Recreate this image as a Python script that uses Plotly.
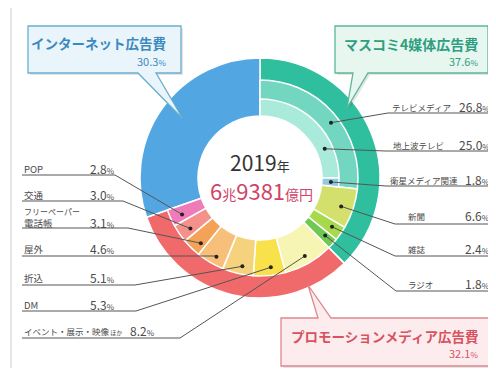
import math
import plotly.graph_objects as go

W, H = 496, 378

# ---------------- data ----------------
groups = ["マスコミ4媒体広告費", "プロモーションメディア広告費", "インターネット広告費"]
group_values = [37.6, 32.1, 30.3]

mid_labels = ["テレビメディア", "新聞", "雑誌", "ラジオ",
              "イベント・展示・映像ほか", "DM", "折込", "屋外",
              "フリーペーパー電話帳", "交通", "POP"]
mid_values = [26.8, 6.6, 2.4, 1.8, 8.2, 5.3, 5.1, 4.6, 3.1, 3.0, 2.8]

tv_labels = ["地上波テレビ", "衛星メディア関連"]
tv_values = [25.0, 1.8]

year_text = "2019"
total_text = ("6", "兆", "9381", "億円")

# ---------------- styles ----------------
group_colors = ["#2fbf9f", "#f06a6b", "#52a6e2"]
mid_colors = ["#72d6c0", "#d3e16c", "#a6d94c", "#6fc950",
              "#f7f5b3", "#f9e14c", "#f5d37e", "#f7bf7a",
              "#f4a257", "#f3918a", "#f07bb9"]
tv_colors = ["#aaeadb", "#8ccbe0"]

CX, CY = 252, 170
R_OUT, R_MID, R_IN, R_HOLE = 120, 98, 79, 62
FONT = "Noto Sans CJK JP"


def domain(r):
    return dict(x=[(CX - r) / W, (CX + r) / W],
                y=[1 - (CY + r) / H, 1 - (CY - r) / H])


fig = go.Figure()

# invisible trace so the pixel-like axes exist
fig.add_trace(go.Scatter(x=[0, W], y=[0, H], mode="markers",
                         marker=dict(opacity=0), hoverinfo="skip", showlegend=False))

# outer ring (groups), full depth
fig.add_trace(go.Pie(values=group_values, labels=groups, marker=dict(colors=group_colors,
                     line=dict(color="white", width=1.5)),
                     hole=R_HOLE / R_OUT, domain=domain(R_OUT), sort=False,
                     direction="clockwise", rotation=0, textinfo="none",
                     hoverinfo="skip", showlegend=False))

# middle ring (media), transparent for internet
mid_v = mid_values + [group_values[2]]
mid_c = mid_colors + ["rgba(0,0,0,0)"]
mid_w = [1.5] * len(mid_values) + [0]
fig.add_trace(go.Pie(values=mid_v, labels=mid_labels + ["_"], marker=dict(colors=mid_c,
                     line=dict(color="white", width=mid_w)),
                     hole=R_HOLE / R_MID, domain=domain(R_MID), sort=False,
                     direction="clockwise", rotation=0, textinfo="none",
                     hoverinfo="skip", showlegend=False))

# inner ring (TV breakdown)
tv_v = tv_values + [100 - sum(tv_values)]
tv_c = tv_colors + ["rgba(0,0,0,0)"]
tv_w = [1.5, 1.5, 0]
fig.add_trace(go.Pie(values=tv_v, labels=tv_labels + ["_"], marker=dict(colors=tv_c,
                     line=dict(color="white", width=tv_w)),
                     hole=R_HOLE / R_IN, domain=domain(R_IN), sort=False,
                     direction="clockwise", rotation=0, textinfo="none",
                     hoverinfo="skip", showlegend=False))

shapes = []
annotations = []


def pt(theta_deg, r):
    t = math.radians(theta_deg)
    return CX + r * math.sin(t), CY - r * math.cos(t)


def slice_point(values, idx, frac, r):
    start = sum(values[:idx]) * 3.6
    span = values[idx] * 3.6
    return pt(start + frac * span, r)


LINE_C = "#555555"
TXT_C = "#4a4a4a"


def val_html(v):
    return f"{v:.1f}<span style='font-size:8px'>%</span>"


def add_dot(x, y):
    shapes.append(dict(type="circle", xref="x", yref="y", x0=x - 2, x1=x + 2,
                       y0=y - 2, y1=y + 2, fillcolor="#222", line=dict(width=0),
                       layer="above"))


def add_poly(pts, color=LINE_C, width=1):
    d = "M " + " L ".join(f"{x:.1f},{y:.1f}" for x, y in pts)
    shapes.append(dict(type="path", xref="x", yref="y", path=d,
                       line=dict(color=color, width=width), layer="above"))


# right-side labels: (values list, index, name, name_x, text_y, line_y, elbow_x, frac, r)
right_cfg = [
    (mid_values, 0, mid_labels[0], 382, 99, 105, 380, 0.54, 90),
    (tv_values, 0, tv_labels[0], 383, 137, 143, 378, 0.73, 71),
    (tv_values, 1, tv_labels[1], 380, 172, 178, 378, 0.5, 71),
    (mid_values, 1, mid_labels[1], 398, 208, 216, 387, 0.54, 86),
    (mid_values, 2, mid_labels[2], 398, 241, 248, 387, 0.45, 87),
    (mid_values, 3, mid_labels[3], 398, 276, 283, 388, 0.4, 87),
]
for vals, i, name, nx, ty, ly, ex, frac, r in right_cfg:
    dx, dy = slice_point(vals, i, frac, r)
    add_poly([(dx, dy), (ex, ly), (484, ly)])
    add_dot(dx, dy)
    annotations.append(dict(x=nx, y=ty, text=name, xanchor="left", yanchor="middle",
                            showarrow=False, font=dict(size=8.5, color=TXT_C, family=FONT)))
    annotations.append(dict(x=484, y=ty - 1, text=val_html(vals[i]), xanchor="right",
                            yanchor="middle", showarrow=False,
                            font=dict(size=12, color=TXT_C, family=FONT)))

# left-side labels: (index, name_html, text_y, line_y, elbow_x, value_x, frac, r)
left_cfg = [
    (10, "POP", 161, 167, 107, 80, 0.41, 86),
    (9, "交通", 187, 193, 115, 80, 0.37, 86),
    (8, "電話帳", 215, 220, 120, 80, 0.3, 88),
    (7, "屋外", 241, 248, None, 80, 0.4, 90),
    (6, "折込", 270, 277, 127, 80, 0.4, 90),
    (5, "DM", 297, 303, 128, 80, 0.43, 90),
    (4, "イベント・展示・映像<span style='font-size:6px'> ほか</span>", 323, 330, 172, 120, 0.5, 90),
]
for i, name, ty, ly, ex, vx, frac, r in left_cfg:
    dx, dy = slice_point(mid_values, i, frac, r)
    if ex is None:
        add_poly([(14, ly), (dx, ly), (dx, dy)])
    else:
        add_poly([(14, ly), (ex, ly), (dx, dy)])
    add_dot(dx, dy)
    fs = 8.5 if i == 4 else 9.5
    annotations.append(dict(x=14, y=ty, text=name, xanchor="left", yanchor="middle",
                            showarrow=False, font=dict(size=fs, color=TXT_C, family=FONT)))
    annotations.append(dict(x=vx, y=ty - 1, text=val_html(mid_values[i]), xanchor="left",
                            yanchor="middle", showarrow=False,
                            font=dict(size=12, color=TXT_C, family=FONT)))
annotations.append(dict(x=14, y=203, text="フリーペーパー", xanchor="left", yanchor="middle",
                        showarrow=False, font=dict(size=8, color=TXT_C, family=FONT)))

# center text
annotations.append(dict(x=CX, y=154, text=f"{year_text}<span style='font-size:13px'>年</span>",
                        xanchor="center", yanchor="middle", showarrow=False,
                        font=dict(size=21, color="#333333", family=FONT)))
annotations.append(dict(
    x=CX + 1, y=182,
    text=(f"{total_text[0]}<span style='font-size:14px'>{total_text[1]}</span>"
          f"{total_text[2]}<span style='font-size:14px'>{total_text[3]}</span>"),
    xanchor="center", yanchor="middle", showarrow=False,
    font=dict(size=22, color="#cf4468", family=FONT)))


def shift_path(d, dx, dy):
    out = []
    for p in d.split(" "):
        if "," in p:
            a, b = p.split(",")
            out.append(f"{float(a) + dx},{float(b) + dy}")
        else:
            out.append(p)
    return " ".join(out)


# callout boxes
def callout(x0, y0, x1, y1, tail, fill, border, title, value, tcolor, tx, ty, vy, fs):
    (ba, bb, tip, side) = tail
    if side == "bottom":
        d = (f"M {x0},{y0} L {x1},{y0} L {x1},{y1} L {bb},{y1} L {tip[0]},{tip[1]} "
             f"L {ba},{y1} L {x0},{y1} Z")
    else:
        d = (f"M {x0},{y0} L {ba},{y0} L {tip[0]},{tip[1]} L {bb},{y0} L {x1},{y0} "
             f"L {x1},{y1} L {x0},{y1} Z")
    shapes.append(dict(type="path", xref="x", yref="y", path=shift_path(d, 2, 2),
                       layer="above", fillcolor="rgba(0,0,0,0.10)", line=dict(width=0)))
    shapes.append(dict(type="path", xref="x", yref="y", path=d, layer="above",
                       fillcolor=fill, line=dict(color=border, width=1.3)))
    annotations.append(dict(x=tx, y=ty, text=f"<b>{title}</b>", xanchor="right",
                            yanchor="middle", showarrow=False,
                            font=dict(size=fs, color=tcolor, family=FONT)))
    annotations.append(dict(x=tx, y=vy, text=val_html(value), xanchor="right",
                            yanchor="middle", showarrow=False,
                            font=dict(size=11, color=tcolor, family=FONT)))


callout(20, 18, 173, 65, (130, 148, (175, 111), "bottom"), "#eaf5fb", "#6aaed0",
        groups[2], group_values[2], "#3b89bf", 160, 35, 53, 13.5)
callout(327, 18, 480, 65, (345, 360, (339, 100), "bottom"), "#e8f6f0", "#5db597",
        groups[0], group_values[0], "#2f9f80", 472, 36, 53, 14)
callout(273, 310, 481, 358, (310, 323, (300, 277), "top"), "#fdeced", "#e0868e",
        groups[1], group_values[1], "#d8525f", 472, 328, 345, 13.5)

# left frame line
shapes.append(dict(type="line", xref="x", yref="y", x0=3, x1=3, y0=0, y1=360,
                   line=dict(color="#cccccc", width=1), layer="above"))

fig.update_layout(
    width=W, height=H, margin=dict(l=0, r=0, t=0, b=0),
    paper_bgcolor="white", plot_bgcolor="white",
    xaxis=dict(range=[0, W], visible=False, fixedrange=True, domain=[0, 1]),
    yaxis=dict(range=[H, 0], visible=False, fixedrange=True, domain=[0, 1]),
    shapes=shapes, annotations=annotations, showlegend=False,
    font=dict(family=FONT),
)

fig.write_html("out.html")
